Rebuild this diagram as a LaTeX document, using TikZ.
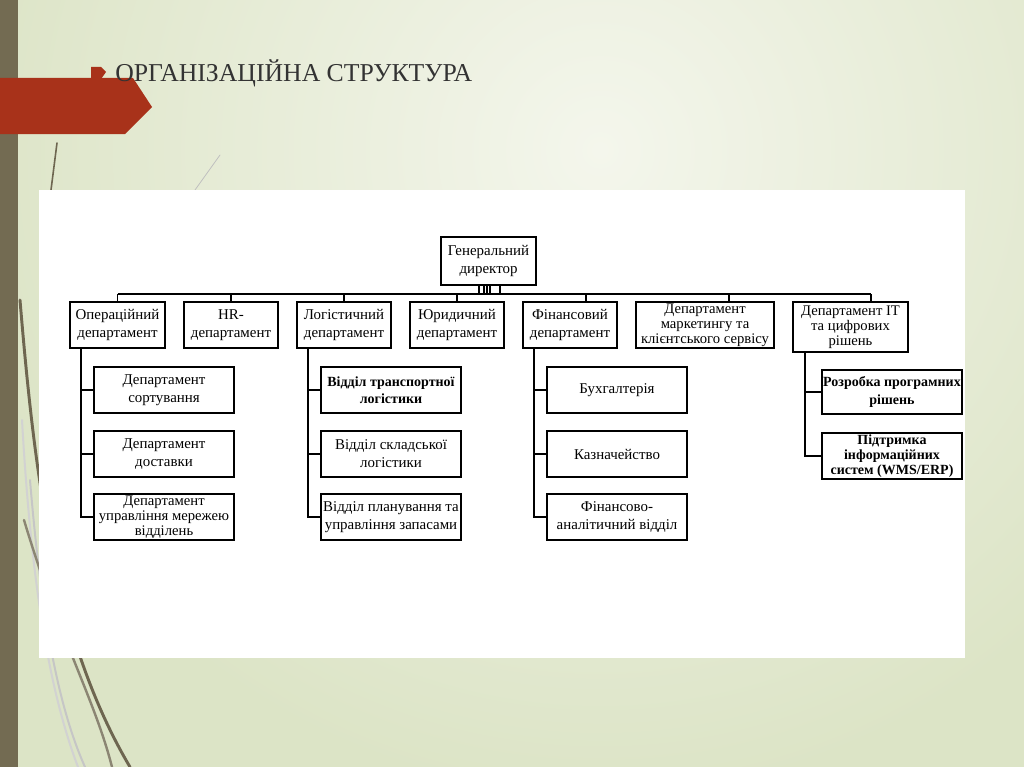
\documentclass[tikz,border=0pt]{standalone}
\usepackage{fontspec}
\setmainfont{Liberation Serif}
\usetikzlibrary{calc}
\definecolor{bgout}{HTML}{DCE4C6}
\definecolor{bgin}{HTML}{F4F6EC}
\definecolor{stripe}{HTML}{736B52}
\definecolor{rust}{HTML}{A8321A}
\definecolor{olive}{HTML}{6E6650}
\definecolor{titlegray}{HTML}{333333}
\tikzset{
  box/.style={draw=black, line width=1.3pt, fill=white, align=center, inner sep=0pt,
    font=\fontsize{11.2}{13.5}\selectfont},
  tri/.style={font=\fontsize{11}{11.4}\selectfont},
  boldtxt/.style={font=\fontsize{10.5}{13}\selectfont\bfseries},
  sz/.style 2 args={minimum width=#1*0.75pt, minimum height=#2*0.75pt},
  link/.style={draw=black, line width=1.3pt},
  deco/.style={line cap=round}
}
\begin{document}
\begin{tikzpicture}[x=0.75pt,y=-0.75pt]
\useasboundingbox (0,0) rectangle (1024,767);
% background
\fill[bgout] (0,0) rectangle (1024,767);
\begin{scope}
\clip (0,0) rectangle (1024,767);
\shade[inner color=bgin, outer color=bgout] (600,150) circle (650);
% decorative lines
\draw[deco, olive, line width=1.2pt] (57,143) -- (51,190);
\draw[deco, gray!50, line width=0.6pt] (220,155) -- (195,190);
\draw[deco, gray!35, line width=1.5pt] (22,420) .. controls (30,560) and (45,680) .. (78,767);
\draw[deco, gray!45, line width=1.5pt] (30,480) .. controls (40,600) and (55,700) .. (85,767);
\draw[deco, olive, line width=2.2pt] (20,300) .. controls (35,480) and (55,640) .. (130,767);
\draw[deco, olive!80, line width=1.8pt] (24,520) .. controls (60,640) and (95,700) .. (112,767);
\end{scope}
% left stripe
\fill[stripe] (0,0) rectangle (18,767);
% red arrow
\fill[rust] (91,67) -- (101,67) -- (106,72) -- (101,79) -- (91,79) -- cycle;
\fill[rust] (0,78) -- (133,78) -- (152,107) -- (125,134) -- (0,134) -- cycle;
% title
\node[anchor=base west, inner sep=0pt, text=titlegray, font=\fontsize{19.3}{22}\selectfont] (title) at (115,82) {ОРГАНІЗАЦІЙНА СТРУКТУРА};
% white panel
\fill[white] (39,190) rectangle (965,658);

% top
\node[box, sz={95}{48}] (dir) at (488.5,261) {Генеральний\\директор};
% level 1
\node[box, sz={95}{46}] (op)  at (117.5,325) {Операційний\\департамент};
\node[box, sz={94}{46}] (hr)  at (231,325) {HR-\\департамент};
\node[box, sz={94}{46}] (log) at (344,325) {Логістичний\\департамент};
\node[box, sz={94}{46}] (jur) at (457,325) {Юридичний\\департамент};
\node[box, sz={94}{46}] (fin) at (570,325) {Фінансовий\\департамент};
\node[box, tri, sz={138}{46}] (mkt) at (705,325) {Департамент\\маркетингу та\\клієнтського сервісу};
\node[box, tri, sz={115}{50}] (it) at (850.5,327) {Департамент IT\\та цифрових\\рішень};
% level 2
\node[box, sz={140}{46}] (op1) at (164,390) {Департамент\\сортування};
\node[box, sz={140}{46}] (op2) at (164,454) {Департамент\\доставки};
\node[box, tri, sz={140}{46}] (op3) at (164,517) {Департамент\\управління мережею\\відділень};
\node[box, boldtxt, sz={140}{46}] (log1) at (391,390) {Відділ транспортної\\логістики};
\node[box, sz={140}{46}] (log2) at (391,454) {Відділ складської\\логістики};
\node[box, sz={140}{46}] (log3) at (391,517) {Відділ планування та\\управління запасами};
\node[box, sz={140}{46}] (fin1) at (617,390) {Бухгалтерія};
\node[box, sz={140}{46}] (fin2) at (617,454) {Казначейство};
\node[box, sz={140}{46}] (fin3) at (617,517) {Фінансово-\\аналітичний відділ};
\node[box, boldtxt, sz={140}{44}] (it1) at (892,392) {Розробка програмних\\рішень};
\node[box, sz={140}{46}, font=\fontsize{10.5}{11.2}\selectfont\bfseries] (it2) at (892,456) {Підтримка\\інформаційних\\систем (WMS/ERP)};

% bus
\coordinate (bus) at (0,294);
\coordinate (finD) at (586,0);
\coordinate (mktD) at (729,0);
\coordinate (itD) at (871,0);
\draw[link] (op.north |- bus) -- (itD |- bus);
\foreach \n in {op,hr,log,jur}{\draw[link] (\n.north |- bus) -- (\n.north);}
\draw[link] (finD |- bus) -- (finD |- fin.north);
\draw[link] (mktD |- bus) -- (mktD |- mkt.north);
\draw[link] (itD |- bus) -- (itD |- it.north);
% director ticks
\foreach \t in {479,484,487,490,500}{
  \coordinate (tk) at (\t,0);
  \draw[black, line width=1pt] (tk |- dir.south) -- (tk |- bus);
}
% sub-branches
\coordinate (opV) at (81,0);
\coordinate (logV) at (308,0);
\coordinate (finV) at (534,0);
\coordinate (itV) at (805,0);
\foreach \c in {op1,op2,op3}{\draw[link] (opV |- op.south) |- (\c.west);}
\foreach \c in {log1,log2,log3}{\draw[link] (logV |- log.south) |- (\c.west);}
\foreach \c in {fin1,fin2,fin3}{\draw[link] (finV |- fin.south) |- (\c.west);}
\foreach \c in {it1,it2}{\draw[link] (itV |- it.south) |- (\c.west);}
\end{tikzpicture}
\end{document}
